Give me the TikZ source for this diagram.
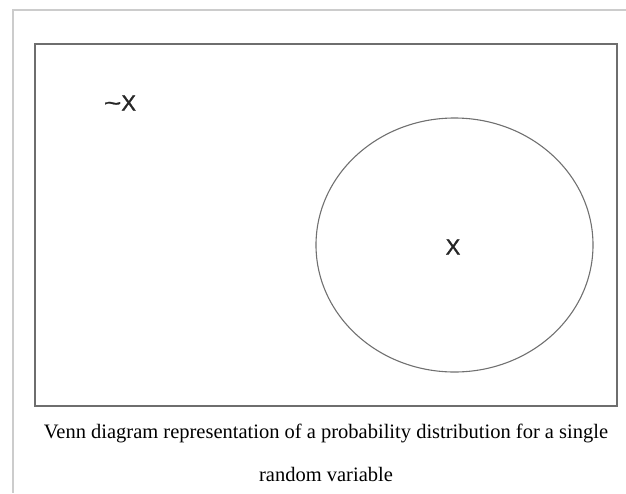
\documentclass[tikz,border=0pt]{standalone}
\usepackage{fontspec}
\setmainfont{Liberation Serif}
\newfontfamily\labelfont[FakeBold=1.3]{Liberation Sans}
\usetikzlibrary{positioning}
\definecolor{framegray}{HTML}{CCCCCC}
\definecolor{boxgray}{HTML}{6E6E6E}
\definecolor{ringgray}{HTML}{707070}
\tikzset{
  pagerule/.style={framegray, line width=1.6pt},
  universe/.style={draw=boxgray, line width=2pt},
  event/.style={ellipse, draw=ringgray, line width=1.1pt, inner sep=0pt, minimum width=277pt, minimum height=254pt},
  setlbl/.style={font=\labelfont\fontsize{22}{22}\selectfont, text=black!85},
  caption/.style={font=\fontsize{20.5}{20.5}\selectfont, align=center}
}
\usetikzlibrary{shapes.geometric}
\begin{document}
\begin{tikzpicture}[x=1pt, y=-1pt]
    \useasboundingbox (0,0) rectangle (626,493);

    % page frame
    \draw[pagerule] (626,10) -- (13,10) -- (13,493);

    % sample space
    \draw[universe] (35,44) rectangle (617,406);
    \node[setlbl] (notx) at (120,103) {\scalebox{1.35}[1]{\textasciitilde}X};

    % event X
    \node[event] (evx) at (454.5,245) {};
    \node[setlbl] (x) at (453,247) {X};

    % caption
    \node[caption] (cap1) at (326,433) {Venn diagram representation of a probability distribution for a single};
    \node[caption] (cap2) at (326,474) {random variable};

\end{tikzpicture}
\end{document}
